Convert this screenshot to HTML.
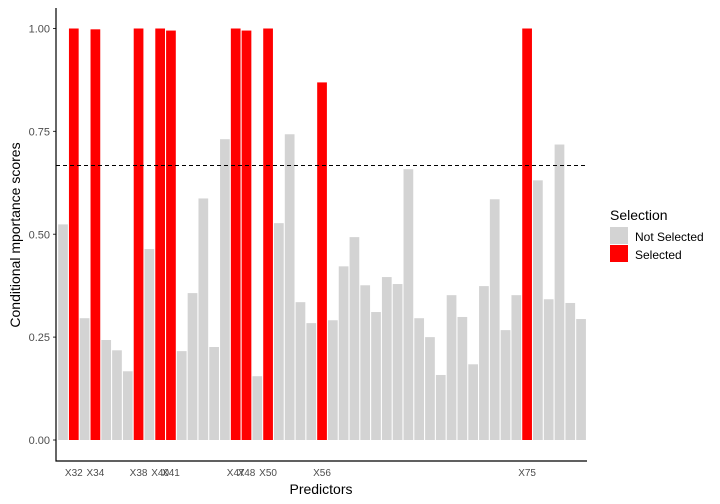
<!DOCTYPE html>
<html><head><meta charset="utf-8"><style>
body{margin:0;background:#fff}
svg{display:block;font-family:"Liberation Sans",Arial,sans-serif}
</style></head><body>
<svg id="chart" width="720" height="504">
<g id="plot"></g>
</svg>
<script>
const labels = ["","X32","","X34","","","","X38","","X40","X41","","","","","","X47","X48","","X50","","","","","X56","","","","","","","","","","","","","","","","","","","X75","","","","",""];
const values = [0.524,1.0,0.296,0.998,0.243,0.218,0.167,1.0,0.464,1.0,0.995,0.216,0.357,0.587,0.226,0.731,1.0,0.995,0.155,1.0,0.527,0.743,0.335,0.284,0.869,0.291,0.422,0.493,0.376,0.311,0.396,0.379,0.658,0.296,0.25,0.158,0.352,0.299,0.184,0.374,0.585,0.267,0.352,1.0,0.631,0.342,0.718,0.333,0.294];
const selected = [0,1,0,1,0,0,0,1,0,1,1,0,0,0,0,0,1,1,0,1,0,0,0,0,1,0,0,0,0,0,0,0,0,0,0,0,0,0,0,0,0,0,0,1,0,0,0,0,0];
const yTicks = [0,0.25,0.5,0.75,1.0];
const yTickLabels = ["0.00","0.25","0.50","0.75","1.00"];
const threshold = [0.667];

const NS="http://www.w3.org/2000/svg";
const g=document.getElementById('plot');
const L=56,R=587,T=8,B=461;
const x=i=>L+(i+0.65)/(values.length+0.2)*(R-L);
const step=(R-L)/(values.length+0.2);
const y=v=>440-v*411.5;
function mk(t,a,p){const e=document.createElementNS(NS,t);for(const k in a)e.setAttribute(k,a[k]);(p||g).appendChild(e);return e;}

values.forEach((v,i)=>{
  const r=mk('rect',{x:x(i)-step*0.45,y:y(v),width:step*0.9,height:y(0)-y(v),fill:selected[i]?'#ff0000':'#d3d3d3'});
  
  
  if(labels[i]){
    const t=mk('text',{x:x(i),y:476,'text-anchor':'middle','font-size':'10',fill:'#4d4d4d'});
    t.textContent=labels[i];
    
    
  }
});
threshold.forEach(h=>{
  const l=mk('line',{x1:L,x2:R,y1:y(h),y2:y(h),stroke:'#000','stroke-dasharray':'4,3','stroke-width':1});
  
  
});
yTicks.forEach((v,i)=>{
  const tk=mk('line',{x1:53,x2:56,y1:y(v),y2:y(v),stroke:'#333'});
  
  
  const t=mk('text',{x:50,y:y(v)+4,'text-anchor':'end','font-size':'11',fill:'#4d4d4d'});
  t.textContent=yTickLabels[i];
  
  
});
const ax=mk('path',{d:`M${L} ${T} V${B} H${R}`,stroke:'#000',fill:'none','stroke-width':1.2});


</script>
<svg width="0" height="0"></svg>
<div style="position:absolute;left:0;top:0;width:720px;height:504px;pointer-events:none">
<svg width="720" height="504" style="font-family:'Liberation Sans',Arial,sans-serif">
<text x="321" y="494" text-anchor="middle" font-size="14">Predictors</text>
<text transform="translate(20,235) rotate(-90)" text-anchor="middle" font-size="14">Conditional mportance scores</text>
<g>
<text x="610" y="220" font-size="14">Selection</text>
<rect x="610" y="227" width="18" height="17" fill="#d3d3d3"/>
<rect x="610" y="245" width="18" height="17" fill="#ff0000"/>
<text x="635" y="241" font-size="12">Not Selected</text>
<text x="635" y="259" font-size="12">Selected</text>
</g>
</svg></div>
</body></html>
